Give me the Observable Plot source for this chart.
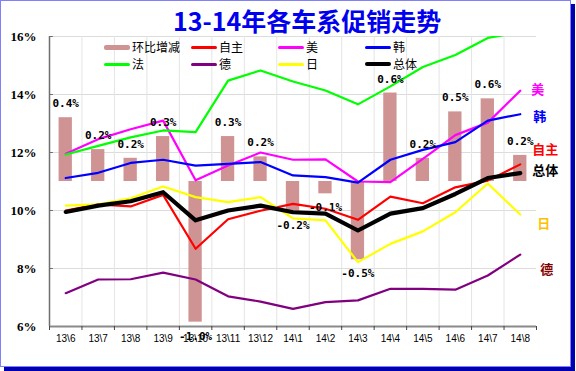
<!DOCTYPE html>
<html><head><meta charset="utf-8">
<script src="https://cdn.jsdelivr.net/npm/d3@7"></script>
<script src="https://cdn.jsdelivr.net/npm/@observablehq/plot@0.6"></script>
<style>
body{margin:0;background:#fff;}
#wrap{position:relative;width:576px;height:371px;overflow:hidden;font-family:"Noto Sans CJK SC",sans-serif;}
#frame{position:absolute;left:0;top:0;width:571px;height:367px;box-sizing:border-box;border:1px solid #8080FF;box-shadow:4px 4px 0 #0000B0;}
#chart{position:absolute;left:0;top:0;}
#title{position:absolute;left:173px;top:3px;font-size:25px;font-weight:bold;color:#0000EE;white-space:nowrap;line-height:34px;}
.lg{position:absolute;display:flex;align-items:center;font-size:12px;line-height:14px;color:#000;white-space:nowrap;}
.sw{display:inline-block;width:26px;margin-right:2px;border-radius:2px;}
</style></head>
<body>
<div id="wrap">
  <div id="frame"></div>
  <div id="chart"></div>
  <div id="title">13-14年各车系促销走势</div>
  <div id="legend"></div>
</div>
<script>
// ---- data ----
const months = ["13\\6","13\\7","13\\8","13\\9","13\\10","13\\11","13\\12","14\\1","14\\2","14\\3","14\\4","14\\5","14\\6","14\\7","14\\8"];
const change = [0.44, 0.22, 0.16, 0.31, -0.97, 0.31, 0.17, -0.21, -0.085, -0.54, 0.61, 0.16, 0.48, 0.57, 0.18]; // 环比增减 (secondary axis)
const zizhu  = [10.00, 10.21, 10.14, 10.54, 8.68, 9.70, 9.99, 10.23, 10.06, 9.68, 10.48, 10.25, 10.80, 11.03, 11.59];
const mei    = [11.96, 12.46, 12.80, 13.10, 11.04, 11.55, 12.00, 11.75, 11.76, 11.00, 10.98, 11.78, 12.60, 13.03, 14.13];
const han    = [11.12, 11.30, 11.64, 11.75, 11.55, 11.61, 11.67, 11.21, 11.15, 10.96, 11.75, 12.09, 12.36, 13.10, 13.32];
const fa     = [11.93, 12.23, 12.52, 12.76, 12.70, 14.48, 14.83, 14.45, 14.14, 13.66, 14.28, 14.95, 15.36, 15.95, 16.15];
const de     = [7.15, 7.62, 7.63, 7.86, 7.62, 7.04, 6.86, 6.61, 6.84, 6.90, 7.30, 7.30, 7.27, 7.76, 8.48];
const ri     = [10.17, 10.21, 10.42, 10.83, 10.46, 10.29, 10.46, 9.73, 9.66, 8.22, 8.85, 9.28, 9.94, 10.93, 9.86];
const zongti = [9.95, 10.17, 10.32, 10.63, 9.66, 10.00, 10.17, 9.94, 9.89, 9.31, 9.89, 10.08, 10.57, 11.12, 11.29];
const seriesNames  = ["自主","美","韩","法","德","日","总体"];
const seriesValues = [zizhu, mei, han, fa, de, ri, zongti];
const yTicks = [6, 8, 10, 12, 14, 16];
const barName = "环比增减";

// ---- styles ----
const seriesColors = ["#FF0000","#FF00FF","#0000FF","#00FF00","#800080","#FFFF00","#000000"];
const seriesWidths = [2.2, 2.2, 2.2, 2.2, 2.2, 2.2, 4.2];
const endLabelColors = {"自主":"#FF0000","美":"#FF00FF","韩":"#0000FF","总体":"#000000","日":"#FFC000","德":"#800000"};
const endLabelOffset = {"自主":[12,-15],"美":[11,-1],"韩":[13,3],"总体":[12,-2],"日":[17,9],"德":[20,15]};
const barColor = "#D09393";

// secondary axis for bars: -1%..1% maps to 6%..16%
const sec = d3.scaleLinear().domain([-1, 1]).range([6, 16]);
const idx = months.map((m, i) => i);
const fmt = v => v.toFixed(1) + "%";

const marks = [
  Plot.ruleY(yTicks.slice(1), {stroke: "#DCDCDC", strokeWidth: 1}),
  Plot.ruleX(d3.range(1, 15), {y1: 6, y2: 16, stroke: "#E4E4E4", strokeWidth: 1}),
  Plot.rect(idx, {x1: i => i + 0.295, x2: i => i + 0.705, y1: sec(0), y2: i => sec(change[i]), fill: barColor}),
];
seriesNames.forEach((n, k) => {
  marks.push(Plot.line(idx, {x: i => i + 0.5, y: i => seriesValues[k][i], stroke: seriesColors[k], strokeWidth: seriesWidths[k], strokeLinejoin: "round", strokeLinecap: "round", clip: true}));
});
marks.push(
  Plot.text(idx.filter(i => change[i] > 0), {x: i => i + 0.5, y: i => sec(change[i]), text: i => fmt(change[i]), dy: -14, fontSize: 11, fontWeight: "bold", fontFamily: "DejaVu Sans Mono", fill: "#000"}),
  Plot.text(idx.filter(i => change[i] < 0), {x: i => i + 0.5, y: i => sec(change[i]), text: i => fmt(change[i]), dy: 14, fontSize: 11, fontWeight: "bold", fontFamily: "DejaVu Sans Mono", fill: "#000"})
);
Object.keys(endLabelOffset).forEach(n => {
  const k = seriesNames.indexOf(n);
  const last = months.length - 1;
  marks.push(Plot.text([last], {x: i => i + 0.5, y: i => seriesValues[k][i], text: () => n, dx: endLabelOffset[n][0], dy: endLabelOffset[n][1], textAnchor: "start", fill: endLabelColors[n], fontSize: 13, fontWeight: "bold", fontFamily: "Noto Sans CJK SC", clip: false}));
});
marks.push(
  Plot.ruleX([0], {y1: 6, y2: 16, stroke: "#6E6E6E", strokeWidth: 1.5}),
  Plot.ruleY(yTicks, {x1: 0, x2: 0.12, stroke: "#6E6E6E"}),
  Plot.ruleY([6], {x1: 0, x2: 15, stroke: "#8A8A8A", strokeWidth: 2}),
  Plot.axisY({ticks: yTicks, tickFormat: d => d + "%", tickSize: 0, tickPadding: 13, fontSize: 13, fontWeight: "bold", fontFamily: "Liberation Serif", label: null}),
  Plot.axisX({ticks: d3.range(0, 16), tickFormat: () => "", tickSize: 4, stroke: "#444", label: null}),
  Plot.axisX({ticks: d3.range(0.5, 15), tickFormat: d => months[Math.floor(d)], tickSize: 0, tickPadding: 8, fontSize: 10, fontFamily: "Liberation Sans", label: null})
);

const chart = Plot.plot({
  width: 576, height: 371,
  marginLeft: 49, marginRight: 40, marginTop: 36, marginBottom: 45,
  style: {background: "transparent", overflow: "visible"},
  x: {type: "linear", domain: [0, 15], axis: null},
  y: {domain: [6, 16], axis: null},
  marks
});
document.getElementById("chart").appendChild(chart);

// legend
const legendItems = [barName, "自主", "美", "韩", "法", "德", "日", "总体"];
const colX = [104, 191, 278, 365];
const rowY = [40, 57];
const lg = document.getElementById("legend");
legendItems.forEach((name, j) => {
  const d = document.createElement("div");
  d.className = "lg";
  d.style.left = colX[j % 4] + "px";
  d.style.top = rowY[Math.floor(j / 4)] + "px";
  const s = document.createElement("span");
  s.className = "sw";
  if (name === barName) { s.style.background = barColor; s.style.height = "5px"; }
  else {
    const k = seriesNames.indexOf(name);
    s.style.background = seriesColors[k];
    s.style.height = (k === 6 ? 4.5 : 3) + "px";
  }
  d.appendChild(s);
  d.appendChild(document.createTextNode(name));
  lg.appendChild(d);
});
</script>
</body></html>
